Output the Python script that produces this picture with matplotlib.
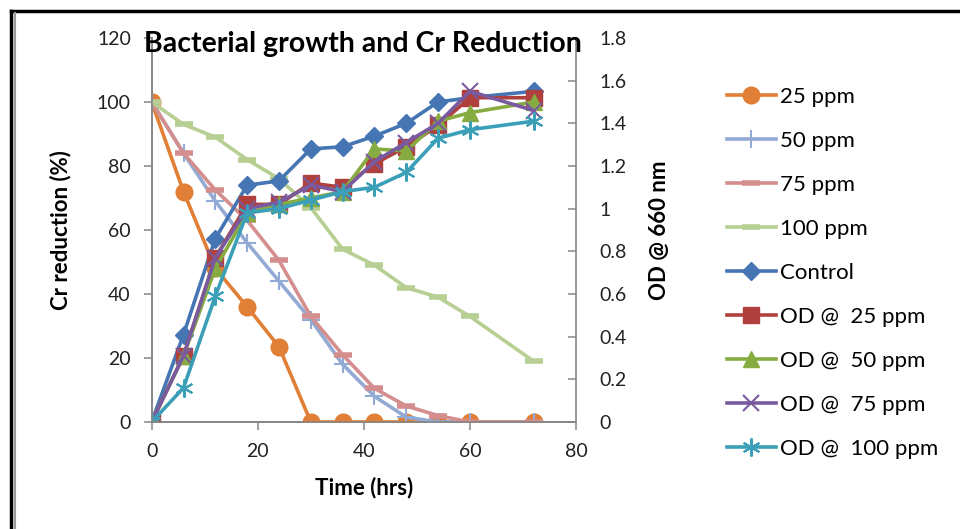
import numpy as np
import matplotlib.pyplot as plt
from matplotlib.lines import Line2D

plt.rcParams['font.family'] = ['Lato', 'DejaVu Sans']

# Data
time = [0, 6, 12, 18, 24, 30, 36, 42, 48, 54, 60, 72]

cr_25 = [100, 72, 48, 36, 23.5, 0, 0, 0, 0, 0, 0, 0]
cr_50 = [100, 84, 69, 56, 44, 32, 18, 8, 1.5, 0, 0, 0]
cr_75 = [100, 84, 72.5, 63, 50.5, 33, 21, 10.5, 5, 2, 0, 0]
cr_100 = [100, 93, 89, 82, 76, 67, 54, 49, 42, 39, 33, 19]

od_control = [0, 0.41, 0.86, 1.11, 1.13, 1.28, 1.29, 1.34, 1.40, 1.50, 1.52, 1.55]
od_25 = [0, 0.31, 0.77, 1.02, 1.02, 1.12, 1.10, 1.21, 1.29, 1.39, 1.52, 1.52]
od_50 = [0, 0.31, 0.72, 0.98, 1.02, 1.05, 1.08, 1.28, 1.27, 1.41, 1.45, 1.50]
od_75 = [0, 0.31, 0.77, 1.00, 1.03, 1.11, 1.08, 1.22, 1.31, 1.40, 1.55, 1.46]
od_100 = [0, 0.16, 0.59, 0.98, 1.00, 1.04, 1.08, 1.10, 1.17, 1.33, 1.37, 1.41]

fig = plt.figure(figsize=(9.6, 5.29), dpi=100)
ax = fig.add_axes([0.158, 0.2023, 0.442, 0.7259])
ax2 = ax.twinx()

# Cr reduction (left axis)
ax.plot(time, cr_25, color='#E07F35', lw=2.6, marker='o', ms=12, label='25 ppm', zorder=3)
ax.plot(time, cr_50, color='#93AAD4', lw=2.6, marker='+', ms=13, mew=1.5, label='50 ppm', zorder=3)
ax.plot(time, cr_75, color='#D38E8D', lw=2.6, marker='_', ms=13, mew=4, label='75 ppm', zorder=3)
ax.plot(time, cr_100, color='#B7CF92', lw=2.6, marker='_', ms=13, mew=4, label='100 ppm', zorder=3)

# OD (right axis)
ax2.plot(time, od_control, color='#4576B3', lw=2.6, marker='D', ms=9.5, label='Control')
ax2.plot(time, od_25, color='#B0403D', lw=2.6, marker='s', ms=11.5, label='OD @  25 ppm')
ax2.plot(time, od_50, color='#86AC41', lw=2.6, marker='^', ms=11, label='OD @  50 ppm')
ax2.plot(time, od_75, color='#7A5A9E', lw=2.6, marker='x', ms=12, mew=1.5, label='OD @  75 ppm')
ax2.plot(time, od_100, color='#3C9FB8', lw=2.6, marker=(6, 2, 0), ms=13, mew=1.5, label='OD @  100 ppm')

ax.set_xlim(0, 80)
ax.set_ylim(0, 120)
ax2.set_ylim(0, 1.8)
ax.set_xticks([0, 20, 40, 60, 80])
ax.set_yticks(np.arange(0, 121, 20))
ax2.set_yticks([0, 0.2, 0.4, 0.6, 0.8, 1, 1.2, 1.4, 1.6, 1.8])
ax2.set_yticklabels(['0', '0.2', '0.4', '0.6', '0.8', '1', '1.2', '1.4', '1.6', '1.8'])

for a in (ax, ax2):
    a.spines['top'].set_visible(False)
    for s in ('left', 'right', 'bottom'):
        a.spines[s].set_color('#868686')
        a.spines[s].set_linewidth(1.2)
    a.tick_params(labelsize=14, colors='#868686', labelcolor='#222222', length=6, width=1.1)
ax.spines['right'].set_visible(False)
ax2.tick_params(axis='y', direction='in', pad=17)
ax.tick_params(axis='y', direction='out', pad=9)
ax.tick_params(axis='x', direction='out', pad=9)

ax.set_xlabel('Time (hrs)', fontsize=16, fontweight='bold', labelpad=12)
ax.set_ylabel('Cr reduction (%)', fontsize=16, fontweight='bold', labelpad=18)
ax2.set_ylabel('OD @ 660 nm', fontsize=16, fontweight='bold', labelpad=16)

fig.text(0.378, 0.917, 'Bacterial growth and Cr Reduction', fontsize=20.5,
         fontweight='bold', ha='center', va='center')

handles = ax.get_legend_handles_labels()[0] + ax2.get_legend_handles_labels()[0]
labels = [h.get_label() for h in handles]
fig.legend(handles, labels, loc='upper left', bbox_to_anchor=(0.748, 0.853),
           frameon=False, fontsize=16, handlelength=2.2, labelspacing=1.08,
           handletextpad=0.2, borderaxespad=0)

# Frame around the figure
fig.add_artist(Line2D([0.011, 1.0], [0.979, 0.979], color='black', lw=2.5, transform=fig.transFigure))
fig.add_artist(Line2D([0.011, 0.011], [0.0, 0.979], color='black', lw=2.5, transform=fig.transFigure))
fig.add_artist(Line2D([0.016, 0.016], [0.0, 0.975], color='#999999', lw=1.5, transform=fig.transFigure))

fig.savefig('out.png', dpi=100)
